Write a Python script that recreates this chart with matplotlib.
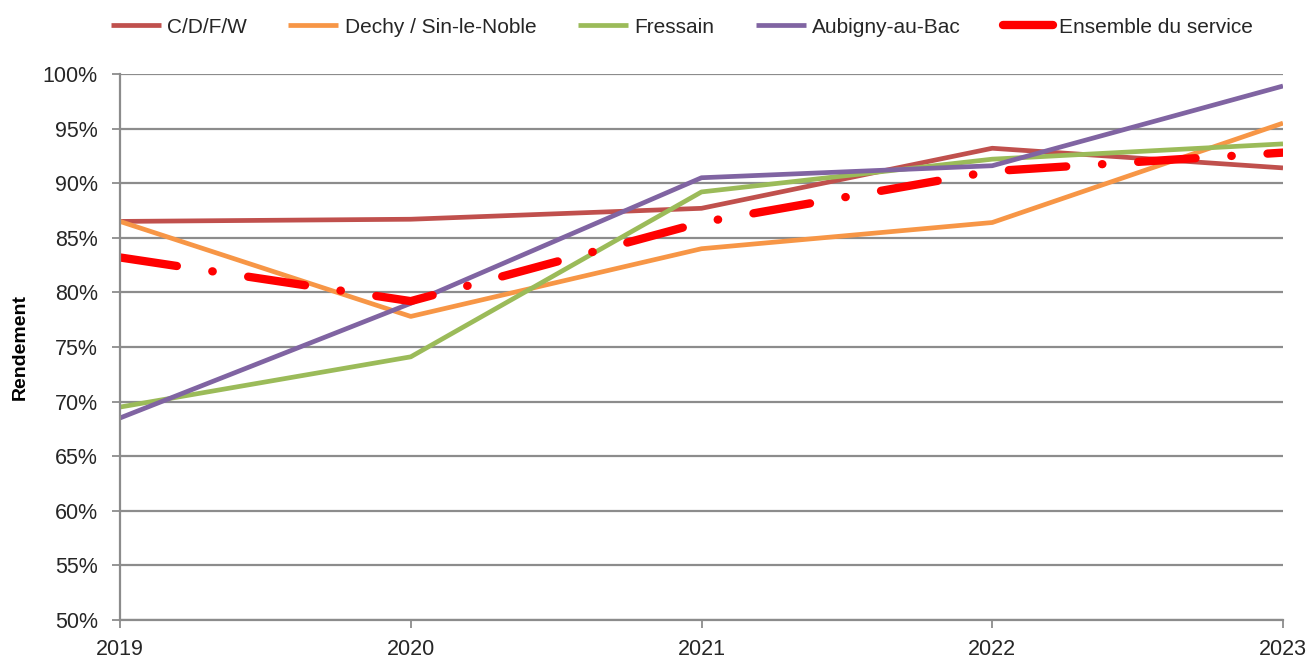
import matplotlib.pyplot as plt
from matplotlib.ticker import FuncFormatter

# data
years = [2019, 2020, 2021, 2022, 2023]
cdfw = [86.5, 86.7, 87.7, 93.2, 91.4]
dechy = [86.5, 77.8, 84.0, 86.4, 95.5]
fressain = [69.5, 74.1, 89.2, 92.2, 93.6]
aubigny = [68.5, 79.0, 90.5, 91.6, 98.9]
ensemble = [83.2, 79.2, 86.4, 91.1, 92.8]
y_ticks = list(range(50, 101, 5))

plt.rcParams['font.family'] = ['Liberation Sans', 'DejaVu Sans']

fig = plt.figure(figsize=(13.11, 6.61), dpi=100)
ax = fig.add_axes([120/1311, 41/661, (1283-120)/1311, (620-74)/661])

lw = 3.4
ax.plot(years, cdfw, color='#C0504D', lw=lw, label='C/D/F/W', solid_capstyle='butt')
ax.plot(years, dechy, color='#F79646', lw=lw, label='Dechy / Sin-le-Noble', solid_capstyle='butt')
ax.plot(years, fressain, color='#9BBB59', lw=lw, label='Fressain', solid_capstyle='butt')
ax.plot(years, aubigny, color='#8064A2', lw=lw, label='Aubigny-au-Bac', solid_capstyle='butt')
ens, = ax.plot(years, ensemble, color='#FF0000', lw=6.0, label='Ensemble du service',
               dashes=(6.9, 4.3, 0.05, 4.3), dash_capstyle='round')

ax.set_xlim(2019, 2023)
ax.set_ylim(50, 100)
ax.set_xticks(years)
ax.set_yticks(y_ticks)
ax.yaxis.set_major_formatter(FuncFormatter(lambda v, p: '%d%%' % v))
ax.grid(axis='y', color='#8C8C8C', lw=1.6)
ax.set_axisbelow(True)
for s in ['top', 'right']:
    ax.spines[s].set_visible(False)
for s in ['left', 'bottom']:
    ax.spines[s].set_color('#8C8C8C')
    ax.spines[s].set_linewidth(1.6)
ax.tick_params(axis='both', colors='#8C8C8C', labelcolor='#262626', labelsize=15.5, length=6, width=1.3)
ax.tick_params(axis='y', pad=10)
ax.tick_params(axis='x', pad=8)
ax.set_ylabel('Rendement', fontsize=14, fontweight='bold', labelpad=10)

handles, labels = ax.get_legend_handles_labels()
leg = fig.legend(handles, labels, loc='center', bbox_to_anchor=(0.52, 0.959), ncol=5,
                 frameon=False, fontsize=15, handlelength=2.4, columnspacing=2.0, handletextpad=0.3)
for t in leg.get_texts():
    t.set_color('#262626')
leg.get_lines()[4].set_linestyle('-')
leg.get_lines()[4].set_solid_capstyle('round')

fig.savefig('out.png', dpi=100)
